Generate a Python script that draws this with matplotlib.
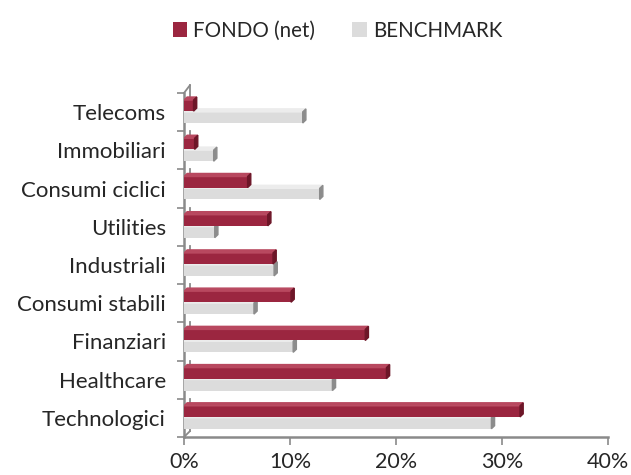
import numpy as np
import matplotlib.pyplot as plt
from matplotlib.patches import Polygon

# dati (percentuali)
settori = ['Technologici', 'Healthcare', 'Finanziari', 'Consumi stabili',
           'Industriali', 'Utilities', 'Consumi ciclici', 'Immobiliari', 'Telecoms']
fondo = [31.7, 19.1, 17.1, 10.1, 8.4, 7.9, 6.0, 1.0, 0.9]
benchmark = [29.0, 14.0, 10.3, 6.6, 8.5, 2.9, 12.8, 2.8, 11.2]

c_fondo = '#9b2640'
c_fondo_side = '#6d1628'
c_fondo_top = '#b8485f'
c_bench = '#dcdcdc'
c_bench_side = '#8c8c8c'
c_bench_top = '#ececec'
grigio = '#8a8a8a'
testo = '#262626'

plt.rcParams['font.family'] = ['Lato', 'DejaVu Sans']

fig = plt.figure(figsize=(6.31, 4.75), dpi=100)
ax = fig.add_axes([184 / 631, 38 / 475, 424 / 631, 344 / 475])

y = np.arange(len(settori))
h = 0.29
dx, dy = 0.3, 0.08  # profondita' 3D
off_f, off_b = 0.17, -0.14


def barre(vals, off, col, side, top, label):
    ax.barh(y + off, vals, height=h, color=col, label=label, zorder=3)
    for yi, v in zip(y + off, vals):
        y0, y1 = yi - h / 2, yi + h / 2
        ax.add_patch(Polygon([[0, y1], [v, y1], [v + dx, y1 + dy], [dx, y1 + dy]],
                             closed=True, color=top, zorder=3))
        ax.add_patch(Polygon([[v, y0], [v + dx, y0 + dy], [v + dx, y1 + dy], [v, y1]],
                             closed=True, color=side, zorder=3))


barre(benchmark, off_b, c_bench, c_bench_side, c_bench_top, 'BENCHMARK')
barre(fondo, off_f, c_fondo, c_fondo_side, c_fondo_top, 'FONDO (net)')

ax.set_xlim(0, 40)
ax.set_ylim(-0.5, len(settori) - 0.5)
ax.set_xticks([0, 10, 20, 30, 40])
ax.set_xticklabels(['0%', '10%', '20%', '30%', '40%'])
ax.set_yticks(np.arange(len(settori) + 1) - 0.5, minor=False)
ax.set_yticklabels([])
ax.set_yticks(y, minor=True)
ax.set_yticklabels(settori, minor=True)
ax.tick_params(axis='y', which='minor', length=0, pad=13, labelsize=16, labelcolor=testo)
ax.tick_params(axis='y', which='major', length=5, width=1.2, color=grigio)
ax.tick_params(axis='x', length=6, width=1.2, color=grigio, labelsize=15.5,
               labelcolor=testo, pad=5)

for s in ['top', 'right']:
    ax.spines[s].set_visible(False)
for s in ['left', 'bottom']:
    ax.spines[s].set_color(grigio)
    ax.spines[s].set_linewidth(1.8)

# spigolo posteriore della parete 3D
xb = 0.55
for k in y:
    y_top = k + 0.5 + (0.2 if k == y[-1] else 0.0)
    y_bar = k + off_f + h / 2 + dy
    ax.plot([xb, xb], [y_bar, y_top], color=grigio, lw=1.3, zorder=2, clip_on=False)
ax.plot([0, xb], [len(settori) - 0.5, len(settori) - 0.3], color=grigio, lw=1.3, clip_on=False)
ax.plot([xb, xb], [-0.5 + 0.15, -0.3], color=grigio, lw=1.3, zorder=2)
ax.plot([0, xb], [-0.5, -0.35], color=grigio, lw=1.3, clip_on=False)

handles, labels = ax.get_legend_handles_labels()
fig.legend(handles[::-1], labels[::-1], loc='upper center', bbox_to_anchor=(0.535, 0.995),
           ncol=2, frameon=False, fontsize=14.8, handlelength=0.7, handleheight=0.7,
           handletextpad=0.3, columnspacing=1.8, labelcolor=testo)

fig.savefig('out.png', dpi=100)
